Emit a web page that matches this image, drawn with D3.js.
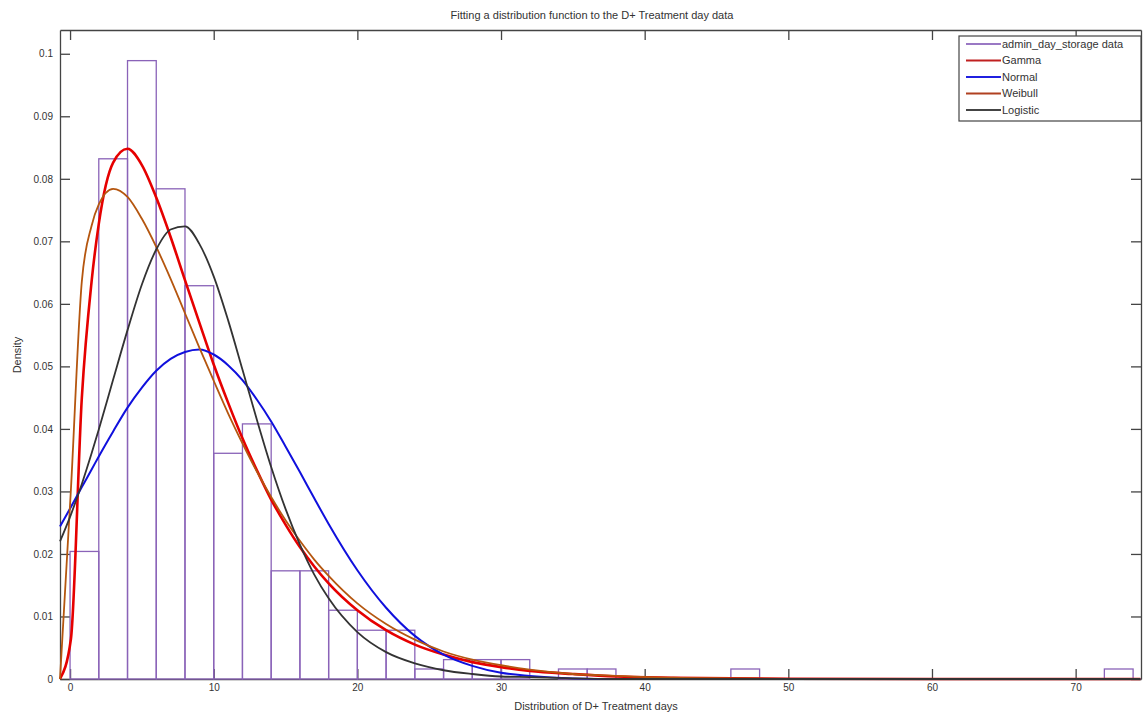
<!DOCTYPE html>
<html>
<head>
<meta charset="utf-8">
<script src="https://cdn.jsdelivr.net/npm/d3@7"></script>
<style>
  body { margin: 0; background: #fff; }
  svg text { font-family: "Liberation Sans", Arial, sans-serif; fill: #333; }
</style>
</head>
<body>
<div id="chart"></div>
<script>
"use strict";

/*
 * # Data
 * Histogram bins are 2 days wide, values are densities.
 */
var binStarts = [0, 2, 4, 6, 8, 10, 12, 14, 16, 18, 20, 22, 24, 26, 28, 30, 32, 34, 36,
                 38, 40, 42, 44, 46, 48, 50, 52, 54, 56, 58, 60, 62, 64, 66, 68, 70, 72];
var binDensity = [0.0204, 0.0832, 0.0989, 0.0784, 0.0629, 0.0361, 0.0408, 0.0173, 0.0173, 0.0110,
                  0.0078, 0.0078, 0.0016, 0.0031, 0.0031, 0.0031, 0, 0.0016, 0.0016,
                  0, 0, 0, 0, 0.0016, 0, 0, 0, 0, 0, 0, 0, 0, 0, 0, 0, 0, 0.0016];

var fitX = [-0.7, 0.06, 0.82, 1.5, 2, 3, 4, 5, 6, 7, 8, 9, 10, 11, 12, 13, 14, 15, 16, 17, 18,
            20, 22, 24, 26, 28, 30, 32, 35, 38, 42, 46, 50, 60, 74.5];
var gammaY = [0, 0.0064, 0.0450, 0.0636, 0.0728, 0.0826, 0.0848, 0.0822, 0.0770, 0.0707, 0.0638,
              0.0570, 0.0503, 0.0442, 0.0385, 0.0334, 0.0287, 0.0247, 0.0211, 0.0180, 0.0153,
              0.0110, 0.0078, 0.0055, 0.0039, 0.0027, 0.0019, 0.0013, 0.0008, 0.0004, 0.0002,
              0.0001, 0.00004, 0, 0];
var normalY = [0.0244, 0.0275, 0.0307, 0.0335, 0.0356, 0.0396, 0.0434, 0.0466, 0.0493, 0.0512, 0.0523,
               0.0527, 0.0519, 0.0502, 0.0478, 0.0447, 0.0412, 0.0372, 0.0331, 0.0289, 0.0248,
               0.0174, 0.0114, 0.0069, 0.0039, 0.0021, 0.0010, 0.0005, 0.0001, 0, 0,
               0, 0, 0, 0];
var weibullY = [0, 0.0303, 0.0636, 0.0725, 0.0759, 0.0784, 0.0771, 0.0736, 0.0691, 0.0640, 0.0585,
                0.0530, 0.0477, 0.0425, 0.0377, 0.0332, 0.0291, 0.0254, 0.0221, 0.0191, 0.0165,
                0.0121, 0.0088, 0.0063, 0.0044, 0.0031, 0.0022, 0.0015, 0.0008, 0.0005, 0.0002,
                0.0001, 0.00003, 0, 0];
var logisticY = [0.0220, 0.0263, 0.0312, 0.0361, 0.0399, 0.0479, 0.0558, 0.0631, 0.0687, 0.0719, 0.0724,
                 0.0696, 0.0644, 0.0574, 0.0495, 0.0415, 0.0339, 0.0272, 0.0215, 0.0167, 0.0129,
                 0.0075, 0.0043, 0.0025, 0.0014, 0.0008, 0.0004, 0.0003, 0.0001, 0, 0,
                 0, 0, 0, 0];

var xTicks = [0, 10, 20, 30, 40, 50, 60, 70];
var yTicks = [0, 0.01, 0.02, 0.03, 0.04, 0.05, 0.06, 0.07, 0.08, 0.09, 0.1];

var seriesNames = ["admin_day_storage data", "Gamma", "Normal", "Weibull", "Logistic"];
var seriesColors = ["#8a63b8", "#e60000", "#1010dd", "#b5560f", "#333333"];
var legendColors = ["#9a78c4", "#c02020", "#2020e0", "#b04020", "#444444"];
var fitCurves = [gammaY, normalY, weibullY, logisticY];
var fitWidths = [2.6, 2, 1.8, 1.8];

/*
 * # Boilerplate
 */
var W = 1143, H = 715;
var plotLeft = 60, plotRight = 1141, plotTop = 30, plotBottom = 679;

var svg = d3.select("#chart")
            .append("svg")
            .attr("width", W)
            .attr("height", H);

var xScale = d3.scaleLinear()
               .domain([-0.7, 74.55])
               .range([plotLeft, plotRight]);

var yScale = d3.scaleLinear()
               .domain([0, 0.1038])
               .range([plotBottom, plotTop]);

// title
svg.append("text")
   .attr("x", 592)
   .attr("y", 19)
   .attr("text-anchor", "middle")
   .style("font-size", "11px")
   .text("Fitting a distribution function to the D+ Treatment day data");

/*
 * # Axes (matlab box, ticks inside) - drawn under the data like matlab does
 */
var axisColor = "#444";

var bottomAxis = d3.axisBottom(xScale).tickValues(xTicks).tickSize(-10).tickSizeOuter(0).tickPadding(5);
var topAxis = d3.axisTop(xScale).tickValues(xTicks).tickSize(-10).tickSizeOuter(0).tickFormat("");
var leftAxis = d3.axisLeft(yScale).tickValues(yTicks).tickSize(-10).tickSizeOuter(0).tickPadding(7)
                 .tickFormat(function (d) { return d === 0 ? "0" : d3.format(".2~f")(d); });
var rightAxis = d3.axisRight(yScale).tickValues(yTicks).tickSize(-10).tickSizeOuter(0).tickFormat("");

[[bottomAxis, "translate(0," + plotBottom + ")"],
 [topAxis, "translate(0," + plotTop + ")"],
 [leftAxis, "translate(" + plotLeft + ",0)"],
 [rightAxis, "translate(" + plotRight + ",0)"]].forEach(function (a) {
  var g = svg.append("g")
             .attr("transform", a[1])
             .call(a[0]);
  g.selectAll("path, line").attr("stroke", axisColor).attr("stroke-width", 1.3);
  g.selectAll("text").style("font-size", "10px").attr("fill", "#444")
   .style("font-family", "'Liberation Sans', Arial, sans-serif");
});

// histogram outlines
var bars = binStarts.map(function (s, i) { return { start: s, density: binDensity[i] }; })
                    .filter(function (d) { return d.density > 0; });

svg.selectAll("rect.bin")
   .data(bars)
   .enter()
   .append("rect")
   .attr("class", "bin")
   .attr("x", function (d) { return xScale(d.start); })
   .attr("y", function (d) { return yScale(d.density); })
   .attr("width", function (d) { return xScale(d.start + 2) - xScale(d.start); })
   .attr("height", function (d) { return yScale(0) - yScale(d.density); })
   .attr("fill", "none")
   .attr("stroke", seriesColors[0])
   .attr("stroke-width", 1.3);

// fitted curves
var line = d3.line()
             .x(function (d) { return xScale(d[0]); })
             .y(function (d) { return yScale(d[1]); })
             .curve(d3.curveMonotoneX);

fitCurves.forEach(function (ys, k) {
  svg.append("path")
     .datum(fitX.map(function (x, i) { return [x, ys[i]]; }))
     .attr("d", line)
     .attr("fill", "none")
     .attr("stroke", seriesColors[k + 1])
     .attr("stroke-width", fitWidths[k])
     .attr("stroke-linejoin", "round");
});

// axis labels
svg.append("text")
   .attr("x", 596)
   .attr("y", 710)
   .attr("text-anchor", "middle")
   .style("font-size", "11px")
   .text("Distribution of D+ Treatment days");

svg.append("text")
   .attr("transform", "translate(21," + 355 + ") rotate(-90)")
   .attr("text-anchor", "middle")
   .style("font-size", "11px")
   .text("Density");

/*
 * # Legend
 */
var legend = svg.append("g").attr("transform", "translate(959,36)");

legend.append("rect")
      .attr("width", plotRight - 959)
      .attr("height", 85)
      .attr("fill", "#fff")
      .attr("stroke", axisColor)
      .attr("stroke-width", 1.2);

var entries = legend.selectAll("g.entry")
                    .data(seriesNames)
                    .enter()
                    .append("g")
                    .attr("class", "entry")
                    .attr("transform", function (d, i) { return "translate(0," + (8 + i * 16.5) + ")"; });

entries.append("line")
       .attr("x1", 7)
       .attr("x2", 42)
       .attr("stroke", function (d, i) { return legendColors[i]; })
       .attr("stroke-width", 2);

entries.append("text")
       .attr("x", 43)
       .attr("dy", "0.35em")
       .style("font-size", "11px")
       .text(function (d) { return d; });
</script>
</body>
</html>
